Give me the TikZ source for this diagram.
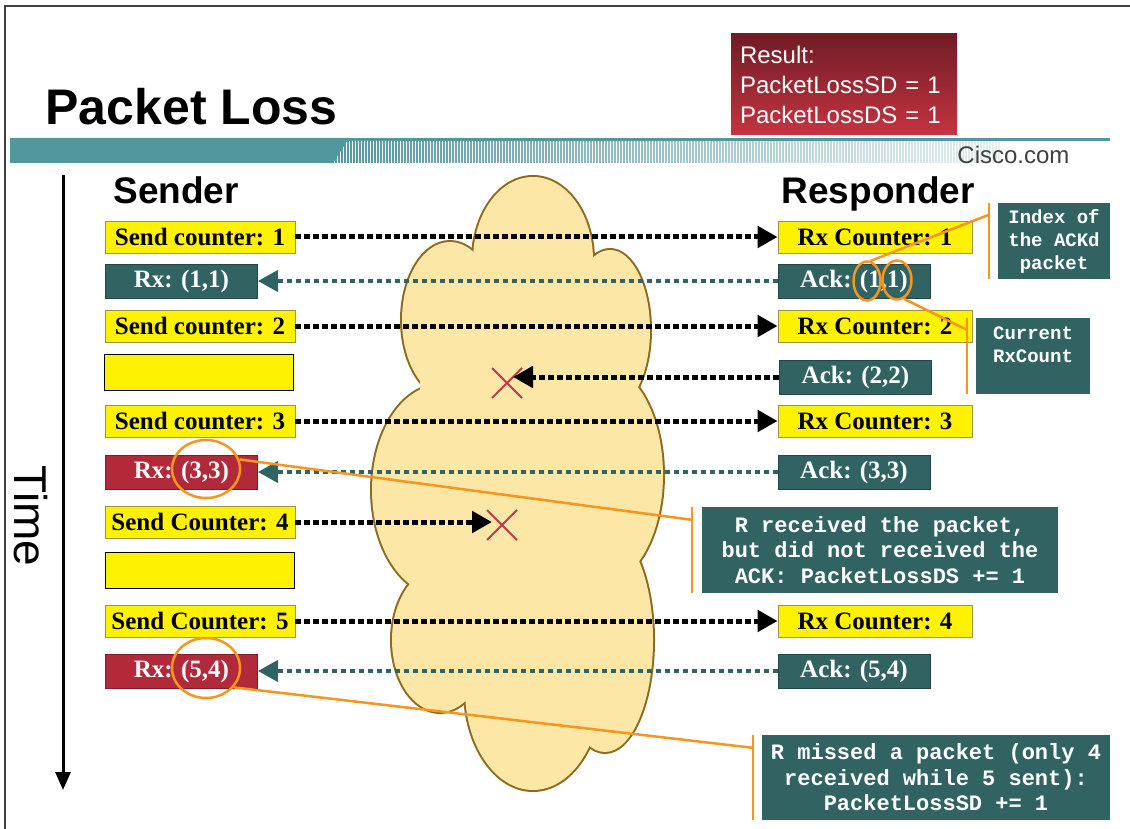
\documentclass[tikz,border=0pt]{standalone}
\usepackage{fontspec}
\setmainfont{Liberation Serif}
\newfontfamily\headfont{Liberation Sans}
\newfontfamily\notefont{Liberation Mono}
\usetikzlibrary{arrows.meta,shapes.geometric,shapes.misc}
\definecolor{slate}{RGB}{49,99,99}
\definecolor{lossred}{RGB}{178,42,58}
\definecolor{resdark}{RGB}{112,28,38}
\definecolor{reslight}{RGB}{196,52,64}
\definecolor{hilite}{RGB}{245,150,30}
\definecolor{band}{RGB}{82,150,158}
\definecolor{cloudfill}{RGB}{253,231,166}
\definecolor{cloudline}{RGB}{140,106,30}
\definecolor{crossred}{RGB}{192,57,75}
\def\cloudparts{533/260/60/83, 450/320/48/78, 610/330/40/80, 440/490/68/105,
  600/475/63/110, 440/640/48/72, 533/690/68/100, 605/640/48/112}

\begin{document}
\begin{tikzpicture}[x=1pt,y=-1pt,
  box/.style={draw=yellow!55!black,fill=yellow,line width=0.8pt,inner sep=0pt,
    minimum height=32pt,font=\fontsize{25}{28}\selectfont\bfseries},
  sendbox/.style={box,minimum width=190pt},
  recvbox/.style={box,minimum width=194pt},
  gapbox/.style={box,draw=black,minimum width=189pt,minimum height=36pt},
  ackbox/.style={box,draw=slate!70!black,fill=slate,text=white,minimum width=152pt,minimum height=34pt},
  lossbox/.style={ackbox,draw=lossred!70!black,fill=lossred},
  req/.style={draw=black,line width=5pt,dash pattern=on 6pt off 3pt,-{Triangle[length=20pt,width=21pt]}},
  ack/.style={req,draw=slate,line width=4pt,dash pattern=on 5pt off 4pt},
  hdr/.style={anchor=base west,font=\headfont\bfseries\fontsize{37}{40}\selectfont},
  note/.style={fill=slate,text=white,align=center,inner sep=0pt,
    font=\notefont\bfseries\fontsize{22}{25.5}\selectfont},
  smallnote/.style={note,font=\notefont\bfseries\fontsize{19}{23}\selectfont},
  ring/.style={ellipse,draw=hilite,line width=2.5pt,inner sep=0pt},
  lead/.style={draw=hilite,line width=2.5pt},
  lost/.style={cross out,draw=crossred,line width=2pt,minimum size=28pt,inner sep=0pt}]
\path[use as bounding box] (0,0) rectangle (1130,829);
\draw[black!75,line width=1.5pt] (5,829) -- (5,6) -- (1130,6);

\foreach \i in {0,...,222}{
  \pgfmathtruncatemacro\fadeval{100-0.38*\i}
  \draw[band!\fadeval!white,line width=1.3pt] (333+3*\i,141) -- (333+3*\i,163);
}
\fill[band] (10,138) -- (349,138) -- (333,163) -- (10,163) -- cycle;
\draw[band,line width=3pt] (10,139.5) -- (1110,139.5);
\node[anchor=base east,font=\headfont\fontsize{24}{28}\selectfont,text=black!75] (cisco) at (1073,164) {Cisco.com};

\node[anchor=base west,font=\headfont\bfseries\fontsize{50}{60}\selectfont] (title) at (42,125) {Packet Loss};
\node[top color=resdark,bottom color=reslight,text=white,align=left,text width=208pt,
  inner xsep=9pt,inner ysep=0pt,minimum height=101pt,
  font=\headfont\fontsize{24}{30}\selectfont] (result) at (844,84.5)
  {Result:\\PacketLossSD = 1\\PacketLossDS = 1};

\node[hdr] (sender) at (110,204) {Sender};
\node[hdr] (responder) at (778,204) {Responder};
\coordinate (ttop) at (63,175);
\coordinate (tend) at (63,790);
\draw[line width=3pt,-{Triangle[length=18pt,width=15pt]}] (ttop) -- (tend);
\node[rotate=-90,font=\headfont\fontsize{46}{50}\selectfont] (time) at (31,516) {Time};

\foreach \cx/\cy/\rx/\ry in \cloudparts
  \draw[cloudline,line width=4pt] (\cx,\cy) ellipse [x radius=\rx,y radius=\ry];
\foreach \cx/\cy/\rx/\ry in \cloudparts
  \fill[cloudfill] (\cx,\cy) ellipse [x radius=\rx,y radius=\ry];
\fill[cloudfill] (420,280) rectangle (620,700);

\node[sendbox] (s1) at (200,237) {Send counter: 1};
\node[ackbox] (x1) at (181.5,281) {Rx: (1,1)};
\node[sendbox] (s2) at (200,326) {Send counter: 2};
\node[gapbox] (g1) at (199,372) {};
\node[sendbox] (s3) at (200,421) {Send counter: 3};
\node[lossbox] (x3) at (181.5,472) {Rx: (3,3)};
\node[sendbox] (s4) at (200,522) {Send Counter: 4};
\node[gapbox] (g2) at (200,570) {};
\node[sendbox] (s5) at (200,621) {Send Counter: 5};
\node[lossbox] (x5) at (181.5,671) {Rx: (5,4)};

\node[recvbox] (r1) at (875,237) {Rx Counter: 1};
\node[ackbox] (a1) at (854,281) {Ack: (1,1)};
\node[recvbox] (r2) at (875,326) {Rx Counter: 2};
\node[ackbox] (a2) at (855.5,377) {Ack: (2,2)};
\node[recvbox] (r3) at (875,421) {Rx Counter: 3};
\node[ackbox] (a3) at (854,472) {Ack: (3,3)};
\node[recvbox] (r4) at (875,621) {Rx Counter: 4};
\node[ackbox] (a5) at (854,671) {Ack: (5,4)};

\node[lost] (lost1) at (507,383) {};
\node[lost] (lost2) at (502,525) {};
\coordinate (drop1) at (513,377);
\coordinate (drop2) at (492,522);

\draw[req] (s1) -- (r1);
\draw[ack] (a1) -- (x1);
\draw[req] (s2) -- (r2);
\draw[req] (a2) -- (drop1);
\draw[req] (s3) -- (r3);
\draw[ack] (a3) -- (x3);
\draw[req] (s4) -- (drop2);
\draw[req] (s5) -- (r4);
\draw[ack] (a5) -- (x5);

\node[smallnote,minimum width=112pt,minimum height=76pt] (n1) at (1054,241) {Index of\\the ACKd\\packet};
\node[smallnote,minimum width=114pt,minimum height=76pt] (n2) at (1033,356) {Current\\RxCount\\\mbox{}};
\node[note,minimum width=356pt,minimum height=86pt] (n3) at (880,550)
  {R received the packet,\\but did not received the\\ACK: PacketLossDS += 1};
\node[note,minimum width=348pt,minimum height=85pt] (n4) at (936,777.5)
  {R missed a packet (only 4\\received while 5 sent):\\PacketLossSD += 1};

\node[ring,minimum width=27pt,minimum height=39pt] (c1a) at (867,281) {};
\node[ring,minimum width=29pt,minimum height=39pt] (c1b) at (897,280) {};
\node[ring,minimum width=68pt,minimum height=58pt] (c33) at (206,469) {};
\node[ring,minimum width=68pt,minimum height=60pt] (c54) at (206,668) {};

\foreach \n/\d in {n1/9pt,n2/9pt,n3/10pt,n4/9pt}
  \draw[lead] ([xshift=-\d]\n.north west) -- ([xshift=-\d]\n.south west);
\draw[lead] (c1a.80) -- ([shift={(-9pt,-12pt)}]n1.north west);
\draw[lead] (c1b.-70) -- ([shift={(-9pt,-12pt)}]n2.north west);
\draw[lead] (c33.16) -- ([shift={(-10pt,-13pt)}]n3.north west);
\draw[lead] (c54.-35) -- ([shift={(-9pt,-13pt)}]n4.north west);
\end{tikzpicture}
\end{document}
